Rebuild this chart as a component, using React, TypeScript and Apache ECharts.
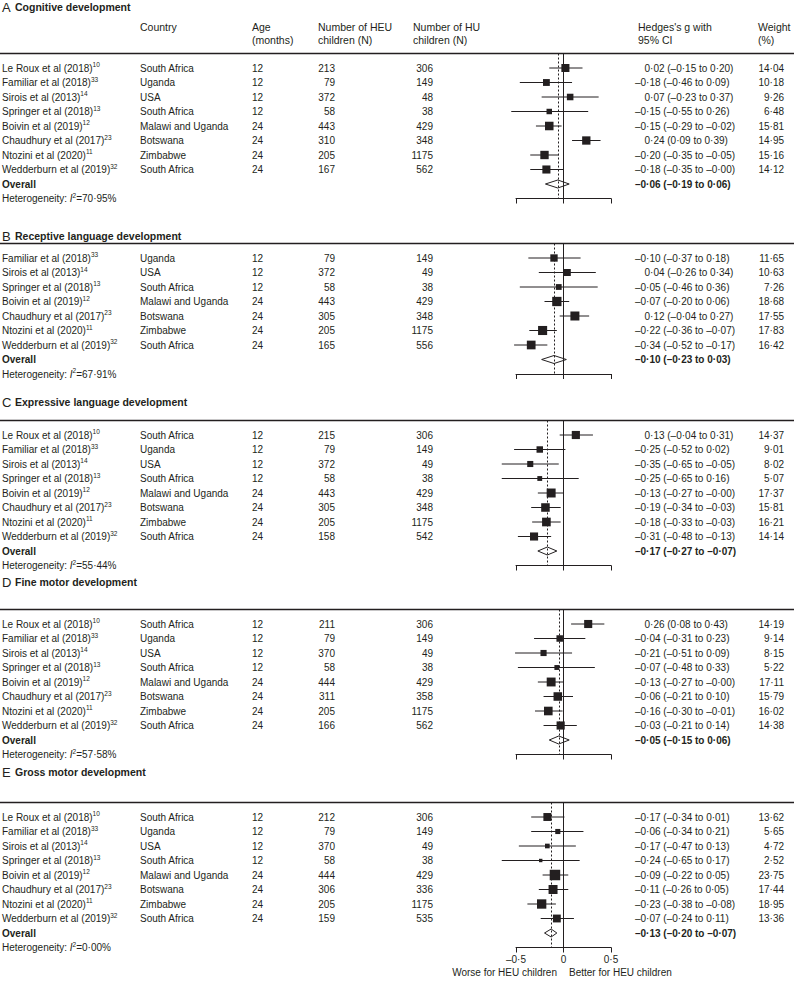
import React, { useEffect, useRef } from 'react';
import * as echarts from 'echarts';

const FONT = '"Liberation Sans", Arial, sans-serif';
const INK = '#231f20';

// ---------- data ----------
const panelLetters = ['A', 'B', 'C', 'D', 'E'];
const panelTitles = [
  'Cognitive development',
  'Receptive language development',
  'Expressive language development',
  'Fine motor development',
  'Gross motor development',
];

const studyNames = [
  'Le Roux et al (2018)',
  'Familiar et al (2018)',
  'Sirois et al (2013)',
  'Springer et al (2018)',
  'Boivin et al (2019)',
  'Chaudhury et al (2017)',
  'Ntozini et al (2020)',
  'Wedderburn et al (2019)',
];
const studyRefs = ['10', '33', '14', '13', '12', '23', '11', '32'];
const countries = ['South Africa', 'Uganda', 'USA', 'South Africa', 'Malawi and Uganda', 'Botswana', 'Zimbabwe', 'South Africa'];
const agesMonths = [12, 12, 12, 12, 24, 24, 24, 24];

const panelStudies = [
  [0, 1, 2, 3, 4, 5, 6, 7],
  [1, 2, 3, 4, 5, 6, 7],
  [0, 1, 2, 3, 4, 5, 6, 7],
  [0, 1, 2, 3, 4, 5, 6, 7],
  [0, 1, 2, 3, 4, 5, 6, 7],
];

const heuN = [
  [213, 79, 372, 58, 443, 310, 205, 167],
  [79, 372, 58, 443, 305, 205, 165],
  [215, 79, 372, 58, 443, 305, 205, 158],
  [211, 79, 370, 58, 444, 311, 205, 166],
  [212, 79, 370, 58, 444, 306, 205, 159],
];
const huN = [
  [306, 149, 48, 38, 429, 348, 1175, 562],
  [149, 49, 38, 429, 348, 1175, 556],
  [306, 149, 49, 38, 429, 348, 1175, 542],
  [306, 149, 49, 38, 429, 358, 1175, 562],
  [306, 149, 49, 38, 429, 336, 1175, 535],
];

const gEst = [
  [0.02, -0.18, 0.07, -0.15, -0.15, 0.24, -0.20, -0.18],
  [-0.10, 0.04, -0.05, -0.07, 0.12, -0.22, -0.34],
  [0.13, -0.25, -0.35, -0.25, -0.13, -0.19, -0.18, -0.31],
  [0.26, -0.04, -0.21, -0.07, -0.13, -0.06, -0.16, -0.03],
  [-0.17, -0.06, -0.17, -0.24, -0.09, -0.11, -0.23, -0.07],
];
const gLow = [
  [-0.15, -0.46, -0.23, -0.55, -0.29, 0.09, -0.35, -0.35],
  [-0.37, -0.26, -0.46, -0.20, -0.04, -0.36, -0.52],
  [-0.04, -0.52, -0.65, -0.65, -0.27, -0.34, -0.33, -0.48],
  [0.08, -0.31, -0.51, -0.48, -0.27, -0.21, -0.30, -0.21],
  [-0.34, -0.34, -0.47, -0.65, -0.22, -0.26, -0.38, -0.24],
];
const gHigh = [
  [0.20, 0.09, 0.37, 0.26, -0.02, 0.39, -0.05, -0.00],
  [0.18, 0.34, 0.36, 0.06, 0.27, -0.07, -0.17],
  [0.31, 0.02, -0.05, 0.16, -0.00, -0.03, -0.03, -0.13],
  [0.43, 0.23, 0.09, 0.33, -0.00, 0.10, -0.01, 0.14],
  [0.01, 0.21, 0.13, 0.17, 0.05, 0.05, -0.08, 0.11],
];
const weights = [
  [14.04, 10.18, 9.26, 6.48, 15.81, 14.95, 15.16, 14.12],
  [11.65, 10.63, 7.26, 18.68, 17.55, 17.83, 16.42],
  [14.37, 9.01, 8.02, 5.07, 17.37, 15.81, 16.21, 14.14],
  [14.19, 9.14, 8.15, 5.22, 17.11, 15.79, 16.02, 14.38],
  [13.62, 5.65, 4.72, 2.52, 23.75, 17.44, 18.95, 13.36],
];

const overallEst = [-0.06, -0.10, -0.17, -0.05, -0.13];
const overallLow = [-0.19, -0.23, -0.27, -0.15, -0.20];
const overallHigh = [0.06, 0.03, -0.07, 0.06, -0.07];
const heterogeneityI2 = [70.95, 67.91, 55.44, 57.58, 0.0];

const xTicks = [-0.5, 0, 0.5];
const footerLeft = 'Worse for HEU children';
const footerRight = 'Better for HEU children';

// ---------- layout ----------
const ROW_H = 14.5;
const FIRST_ROW_Y = [68, 258, 435, 624, 817];
const TITLE_Y = [8, 237, 403, 583, 773];
const GRID_LEFT = 516;
const GRID_WIDTH = 95;
const COL_STUDY = 2;
const COL_COUNTRY = 140;
const COL_AGE = 252;
const COL_HEU_R = 335;
const COL_HU_R = 433;
const COL_G_NEG = 635;
const COL_G_POS = 644.5;
const COL_W_R = 784;

function fmtNum(v: number): string {
  const neg = v < 0 || Object.is(v, -0);
  return (neg ? '–' : '') + Math.abs(v).toFixed(2).replace('.', '·');
}
function fmtCI(e: number, l: number, h: number): string {
  return `${fmtNum(e)} (${fmtNum(l)} to ${fmtNum(h)})`;
}

function textEl(x: number, y: number, text: string, o: any = {}) {
  const align = o.align || 'left';
  return {
    type: 'text',
    x,
    y,
    style: {
      text,
      font: `${o.italic ? 'italic ' : ''}${o.weight || 'normal'} ${o.size || 10}px ${FONT}`,
      fill: INK,
      textAlign: align,
      textVerticalAlign: 'middle',
      align,
      verticalAlign: 'middle',
    },
  };
}

const richBase = {
  n: { fontSize: 10, fontFamily: FONT, fill: INK, color: INK, lineHeight: 14, verticalAlign: 'middle' },
  b: { fontSize: 10, fontFamily: FONT, fill: INK, color: INK, fontWeight: 'bold', lineHeight: 14 },
  i: { fontSize: 10, fontFamily: FONT, fill: INK, color: INK, fontStyle: 'italic', lineHeight: 14 },
  s: { fontSize: 6.5, fontFamily: FONT, fill: INK, color: INK, lineHeight: 5, verticalAlign: 'top' },
};

function richEl(x: number, y: number, text: string) {
  return {
    type: 'text',
    x,
    y,
    style: {
      text,
      rich: richBase,
      fill: INK,
      font: `10px ${FONT}`,
      textAlign: 'left',
      textVerticalAlign: 'middle',
      align: 'left',
      verticalAlign: 'middle',
    },
  };
}

export default function App() {
  const ref = useRef<HTMLDivElement>(null);

  useEffect(() => {
    if (!ref.current) return;
    const chart = echarts.init(ref.current, null, { renderer: 'svg' });

    const grids: any[] = [];
    const xAxes: any[] = [];
    const yAxes: any[] = [];
    const series: any[] = [];
    const graphics: any[] = [];

    panelTitles.forEach((title, p) => {
      const ids = panelStudies[p];
      const k = ids.length;
      const n = k + 1;
      const top = FIRST_ROW_Y[p] - ROW_H;
      const height = (n + 1) * ROW_H;

      grids.push({ left: GRID_LEFT, top, width: GRID_WIDTH, height, containLabel: false });
      xAxes.push({
        gridIndex: p,
        type: 'value',
        min: xTicks[0],
        max: xTicks[xTicks.length - 1],
        interval: 0.5,
        position: 'bottom',
        axisLine: { show: true, onZero: false, lineStyle: { color: INK, width: 1 } },
        axisTick: { show: true, inside: false, length: 5, lineStyle: { color: INK, width: 1 } },
        axisLabel: {
          show: p === panelTitles.length - 1,
          margin: 7,
          fontFamily: FONT,
          fontSize: 10,
          color: INK,
          formatter: (v: number) => (v === 0 ? '0' : (v < 0 ? '–' : '') + Math.abs(v).toFixed(1).replace('.', '·')),
        },
        splitLine: { show: false },
      });
      yAxes.push({ gridIndex: p, type: 'value', min: -1, max: n, inverse: true, show: false, axisLine: { onZero: false } });

      // reference lines
      series.push({
        type: 'line',
        xAxisIndex: p,
        yAxisIndex: p,
        data: [],
        silent: true,
        z: 1,
        markLine: {
          silent: true,
          symbol: ['none', 'none'],
          label: { show: false },
          animation: false,
          data: [
            { xAxis: 0, lineStyle: { type: 'solid', color: INK, width: 1 } },
            { xAxis: overallEst[p], lineStyle: { type: [2, 2], color: INK, width: 1 } },
          ],
        },
      });

      // study markers
      series.push({
        type: 'custom',
        xAxisIndex: p,
        yAxisIndex: p,
        clip: false,
        z: 5,
        data: ids.map((_, r) => [gEst[p][r], r, gLow[p][r], gHigh[p][r], weights[p][r]]),
        renderItem: (_params: any, api: any) => {
          const est = api.value(0);
          const row = api.value(1);
          const lo = api.value(2);
          const hi = api.value(3);
          const w = api.value(4);
          const c = api.coord([est, row]);
          const x1 = api.coord([lo, row])[0];
          const x2 = api.coord([hi, row])[0];
          const s = 2.15 * Math.sqrt(w);
          return {
            type: 'group',
            children: [
              { type: 'line', shape: { x1, y1: c[1], x2, y2: c[1] }, style: { stroke: INK, lineWidth: 1 } },
              { type: 'rect', shape: { x: c[0] - s / 2, y: c[1] - s / 2, width: s, height: s }, style: { fill: INK } },
            ],
          };
        },
      });

      // overall diamond
      series.push({
        type: 'custom',
        xAxisIndex: p,
        yAxisIndex: p,
        clip: false,
        z: 6,
        data: [[overallEst[p], k, overallLow[p], overallHigh[p]]],
        renderItem: (_params: any, api: any) => {
          const c = api.coord([api.value(0), api.value(1)]);
          const xl = api.coord([api.value(2), api.value(1)])[0];
          const xh = api.coord([api.value(3), api.value(1)])[0];
          return {
            type: 'polygon',
            shape: { points: [[xl, c[1]], [c[0], c[1] - 4], [xh, c[1]], [c[0], c[1] + 4]] },
            style: { fill: 'rgba(255,255,255,0)', stroke: INK, lineWidth: 1 },
          };
        },
      });

      // table text
      const rows: number[][] = [];
      for (let r = 0; r <= k + 1; r++) rows.push([0, r]);
      series.push({
        type: 'custom',
        xAxisIndex: p,
        yAxisIndex: p,
        clip: false,
        z: 7,
        silent: true,
        data: rows,
        renderItem: (params: any, api: any) => {
          const r = params.dataIndex;
          const y = api.coord([0, api.value(1)])[1];
          if (r < k) {
            const s = ids[r];
            const est = gEst[p][r];
            return {
              type: 'group',
              children: [
                richEl(COL_STUDY, y, `{n|${studyNames[s]}}{s|${studyRefs[s]}}`),
                textEl(COL_COUNTRY, y, countries[s]),
                textEl(COL_AGE, y, String(agesMonths[s])),
                textEl(COL_HEU_R, y, String(heuN[p][r]), { align: 'right' }),
                textEl(COL_HU_R, y, String(huN[p][r]), { align: 'right' }),
                textEl(est < 0 ? COL_G_NEG : COL_G_POS, y, fmtCI(est, gLow[p][r], gHigh[p][r])),
                textEl(COL_W_R, y, weights[p][r].toFixed(2).replace('.', '·'), { align: 'right' }),
              ],
            };
          }
          if (r === k) {
            const est = overallEst[p];
            return {
              type: 'group',
              children: [
                textEl(COL_STUDY, y, 'Overall', { weight: 'bold' }),
                textEl(est < 0 ? COL_G_NEG : COL_G_POS, y, fmtCI(est, overallLow[p], overallHigh[p]), { weight: 'bold' }),
              ],
            };
          }
          return {
            type: 'group',
            children: [
              richEl(COL_STUDY, y, `{n|Heterogeneity: }{i|I}{s|2}{n|=${heterogeneityI2[p].toFixed(2).replace('.', '·')}%}`),
            ],
          };
        },
      });

      // title + rule
      const titleY = TITLE_Y[p];
      graphics.push({
        type: 'text', left: 2, top: titleY - 7,
        style: { text: panelLetters[p], font: `13px ${FONT}`, fill: INK },
      });
      graphics.push({
        type: 'text', left: 15, top: titleY - 6.5,
        style: { text: title, font: `bold 10.5px ${FONT}`, fill: INK },
      });
      graphics.push({
        type: 'line',
        shape: { x1: 0, y1: top, x2: 794, y2: top },
        style: { stroke: INK, lineWidth: 1.3 },
      });
    });

    // column headers (panel A)
    const headers: [number, string, string][] = [
      [COL_COUNTRY, 'Country', ''],
      [COL_AGE, 'Age', '(months)'],
      [318, 'Number of HEU', 'children (N)'],
      [413, 'Number of HU', 'children (N)'],
      [638, "Hedges's g with", '95% CI'],
      [758, 'Weight', '(%)'],
    ];
    headers.forEach(([x, l1, l2]) => {
      graphics.push({ type: 'text', left: x, top: 21, style: { text: l1, font: `10.5px ${FONT}`, fill: INK } });
      if (l2) graphics.push({ type: 'text', left: x, top: 34, style: { text: l2, font: `10.5px ${FONT}`, fill: INK } });
    });

    // footer
    graphics.push({
      type: 'text', right: 794 - 557, top: 967,
      style: { text: footerLeft, font: `10px ${FONT}`, fill: INK, textAlign: 'right' },
    });
    graphics.push({
      type: 'text', left: 569, top: 967,
      style: { text: footerRight, font: `10px ${FONT}`, fill: INK },
    });

    chart.setOption({
      animation: false,
      backgroundColor: '#ffffff',
      grid: grids,
      xAxis: xAxes,
      yAxis: yAxes,
      series,
      graphic: graphics,
    });

    return () => chart.dispose();
  }, []);

  return (
    <div
      ref={ref}
      style={{ position: 'absolute', left: 0, top: 0, width: 794, height: 989, background: '#fff' }}
    />
  );
}
